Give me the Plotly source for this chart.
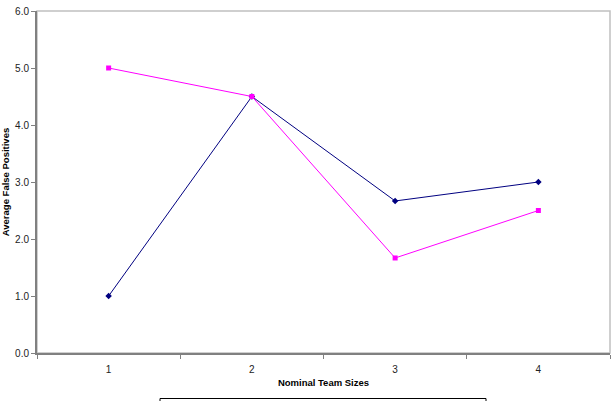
import plotly.graph_objects as go

categories = [1, 2, 3, 4]
category_labels = ["1", "2", "3", "4"]
series_blue = [1.0, 4.5, 2.667, 3.0]
series_pink = [5.0, 4.5, 1.667, 2.5]
y_ticks = [0, 1, 2, 3, 4, 5, 6]

fig = go.Figure()
fig.add_trace(go.Scatter(
    x=categories, y=series_blue, mode="lines+markers",
    line=dict(color="#000080", width=1),
    marker=dict(symbol="diamond", size=5, color="#000080"),
    showlegend=False,
))
fig.add_trace(go.Scatter(
    x=categories, y=series_pink, mode="lines+markers",
    line=dict(color="#ff00ff", width=1),
    marker=dict(symbol="square", size=5, color="#ff00ff"),
    showlegend=False,
))

font = dict(family="Liberation Sans, Arial, sans-serif", size=10, color="#000000")

fig.update_layout(
    width=612, height=401,
    margin=dict(l=37, r=2, t=11, b=48),
    paper_bgcolor="white", plot_bgcolor="white",
    font=font,
    xaxis=dict(
        range=[0.5, 4.5], tickvals=categories, ticktext=category_labels,
        ticks="", showgrid=False, zeroline=False,
        showline=True, linecolor="#808080", linewidth=2,
        minor=dict(tickvals=[0.5, 1.5, 2.5, 3.5, 4.5], ticks="outside",
                   ticklen=4, tickcolor="#808080", showgrid=False),
        ticklabelstandoff=6,
        title=dict(text="<b>Nominal Team Sizes</b>", font=dict(size=9.5), standoff=5),
        tickfont=dict(size=10, color="#222222"),
    ),
    yaxis=dict(
        range=[0, 6], tickvals=y_ticks, tickformat=".1f",
        ticks="outside", ticklen=4, tickcolor="#808080",
        showgrid=False, zeroline=False,
        showline=True, linecolor="#808080", linewidth=2,
        title=dict(text="<b>Average False Positives</b>", font=dict(size=9.5), standoff=4),
        tickfont=dict(size=10, color="#222222"),
    ),
    shapes=[
        dict(type="rect", xref="paper", yref="paper", x0=0, x1=1, y0=0, y1=1,
             line=dict(color="#c0c0c0", width=1.5), layer="below"),
        dict(type="rect", xref="paper", yref="paper",
             x0=(160 - 37) / 573, x1=(486 - 37) / 573,
             y0=-(410 - 353) / 342, y1=-(398.5 - 353) / 342,
             line=dict(color="#000000", width=1)),
    ],
)

fig.write_html("out.html")
